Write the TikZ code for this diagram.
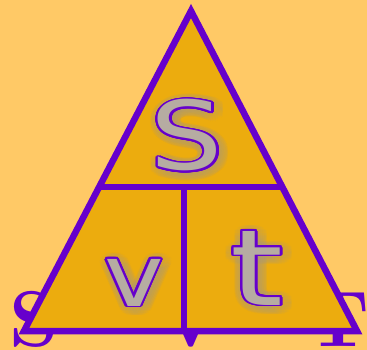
\documentclass[tikz,border=0pt]{standalone}
\usepackage{fontspec}
\usepackage{contour}
\usetikzlibrary{calc}
\newfontfamily\lettersans{DejaVu Sans}
\definecolor{bgOrange}{RGB}{255,201,102}
\definecolor{triGold}{RGB}{236,172,14}
\definecolor{triPurple}{RGB}{102,0,204}
\definecolor{letterGray}{RGB}{182,172,162}
\definecolor{glowGray}{RGB}{150,150,165}
\contournumber{24}

\begin{document}
\begin{tikzpicture}[x=0.02cm, y=-0.02cm,
  rim/.style={draw=triPurple, line width=3.7pt, line join=miter, miter limit=10},
  divider/.style={draw=triPurple, line width=3.4pt},
  cornerletter/.style={text=triPurple, inner sep=0, anchor=base,
                       font=\fontsize{45}{50}\selectfont\bfseries},
  bigletter/.style={inner sep=0, anchor=base},
  glow/.style={inner sep=0, anchor=base, text opacity=0.06}
]
  % Fond
  \fill[bgOrange] (0,0) rectangle (367,350);
  \useasboundingbox (0,0) rectangle (367,350);
  \clip (0,0) rectangle (367,350);

  % Lettres derriere le triangle
  \node[cornerletter] (sCorner) at (34,346)  {S};
  \node[cornerletter] (vCorner) at (191,346) {V};
  \node[cornerletter] (tCorner) at (338,346) {T};

  % Triangle
  \coordinate (apex) at (191,11);
  \coordinate (bl)   at (24,331);
  \coordinate (br)   at (357,331);
  \coordinate (ml)   at ($(bl)!0.45!(apex)$);
  \coordinate (mr)   at ($(br)!0.45!(apex)$);
  \coordinate (mid)  at (184,187);
  \coordinate (base) at (184,331);
  \path[fill=triGold] (apex) -- (bl) -- (br) -- cycle;
  \draw[divider] (ml) -- (mr);
  \draw[divider] (mid) -- (base);
  \draw[rim] (apex) -- (bl) -- (br) -- cycle;

  % Ombres
  \node[glow] (sGlow) at (189,172) {\fontsize{54}{60}\lettersans\scalebox{1.2}[1]{\color{glowGray}\contourlength{4.5pt}\contour{glowGray}{S}}};
  \node[glow] (vGlow) at (136,308) {\fontsize{49}{55}\lettersans\scalebox{1.17}[1]{\color{glowGray}\contourlength{4.5pt}\contour{glowGray}{v}}};
  \node[glow] (tGlow) at (259,307) {\fontsize{60}{66}\lettersans\scalebox{1.28}[1]{\color{glowGray}\contourlength{4.5pt}\contour{glowGray}{t}}};

  % Lettres S, v, t
  \node[bigletter] (sTop)   at (187,170) {\fontsize{54}{60}\lettersans\scalebox{1.2}[1]{\color{letterGray}\contourlength{1.1pt}\contour{triPurple}{S}}};
  \node[bigletter] (vLeft)  at (134,306) {\fontsize{49}{55}\lettersans\scalebox{1.17}[1]{\color{letterGray}\contourlength{1.1pt}\contour{triPurple}{v}}};
  \node[bigletter] (tRight) at (257,305) {\fontsize{60}{66}\lettersans\scalebox{1.28}[1]{\color{letterGray}\contourlength{1.1pt}\contour{triPurple}{t}}};
\end{tikzpicture}
\end{document}
